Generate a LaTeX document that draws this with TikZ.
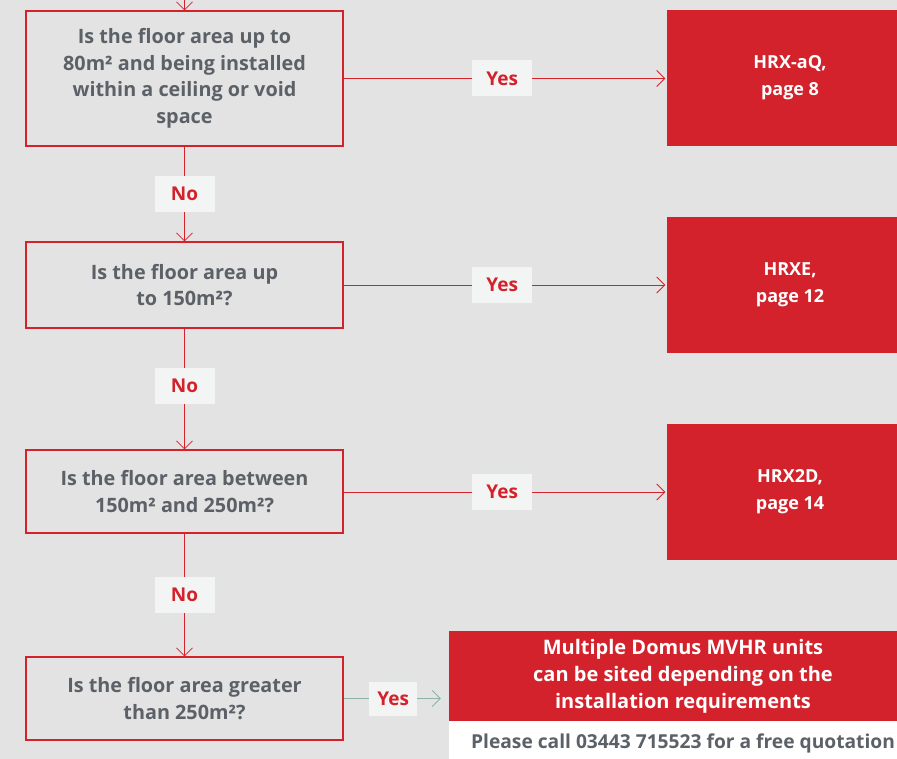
\documentclass[tikz,border=0pt]{standalone}
\usepackage{fontspec}
\setmainfont{Open Sans}
\usetikzlibrary{arrows.meta}

\definecolor{domusred}{HTML}{D3222B}
\definecolor{boxgrey}{HTML}{E3E3E3}
\definecolor{textgrey}{HTML}{5B6167}
\definecolor{tagwhite}{HTML}{F3F4F4}
\definecolor{linegreen}{HTML}{8FB3A9}

\begin{document}
\begin{tikzpicture}[x=1pt,y=-1pt,
	question/.style={draw=domusred,line width=1.2pt,fill=boxgrey,minimum width=317pt,inner sep=0pt,
		text=textgrey,align=center,font=\fontsize{19.8}{26.5}\selectfont\bfseries},
	answer/.style={fill=domusred,text=white,inner sep=0pt,align=center,
		font=\fontsize{18}{27}\selectfont\bfseries},
	tag/.style={fill=tagwhite,text=domusred,inner sep=0pt,minimum width=60pt,minimum height=36pt,
		font=\fontsize{19}{23}\selectfont\bfseries},
	flow/.style={draw=domusred,line width=0.8pt,-{Straight Barb[length=8pt,width=16pt]}}]
		\fill[boxgrey] (0,0) rectangle (897,759);
		\useasboundingbox (0,0) rectangle (897,759);
		
		% questions
		\node[question,minimum height=135pt] (q1) at (184.5,78.5) {Is the floor area up to\\80m² and being installed\\within a ceiling or void\\space};
		\node[question,minimum height=86pt] (q2) at (184.5,285) {Is the floor area up\\to 150m²?};
		\node[question,minimum height=83pt] (q3) at (184.5,491.5) {Is the floor area between\\150m² and 250m²?};
		\node[question,minimum height=83pt] (q4) at (184.5,698.5) {Is the floor area greater\\than 250m²?};
		
		% answers
		\node[answer,minimum width=246pt,minimum height=136pt] (a1) at (790,78) {HRX-aQ,\\page 8};
		\node[answer,minimum width=246pt,minimum height=136pt] (a2) at (790,285) {HRXE,\\page 12};
		\node[answer,minimum width=246pt,minimum height=136pt] (a3) at (790,492) {HRX2D,\\page 14};
		\node[answer,minimum width=468pt,minimum height=90pt,font=\fontsize{20}{27}\selectfont\bfseries] (a4) at (683,676) {Multiple Domus MVHR units\\can be sited depending on the\\installation requirements};
		\node[fill=white,text=textgrey,inner sep=0pt,minimum width=468pt,minimum height=44pt,
			font=\fontsize{19.2}{22}\selectfont\bfseries] (call) at (683,743) {Please call 03443 715523 for a free quotation};
		
		\coordinate (in) at (184.5,-10);
		\draw[flow] (in) -- (q1);
		
		\draw[flow] (q1) -- (q2) node[tag,midway] {No};
		\draw[flow] (q2) -- (q3) node[tag,midway,yshift=3pt] {No};
		\draw[flow] (q3) -- (q4) node[tag,midway] {No};
		
		\draw[flow,shorten >=1.5pt] (q1) -- (a1.west|-q1) node[tag,midway,xshift=-3pt] {Yes};
		\draw[flow,shorten >=1.5pt] (q2.east|-a2) -- (a2.west) node[tag,midway,xshift=-3pt] {Yes};
		\draw[flow,shorten >=1.5pt] (q3.east|-a3) -- (a3.west) node[tag,midway,xshift=-3pt] {Yes};
		\draw[flow,draw=linegreen,shorten >=8pt] (q4) -- (a4.west|-q4) node[tag,midway,minimum width=48pt,minimum height=34pt,xshift=-3pt] {Yes};
\end{tikzpicture}
\end{document}
